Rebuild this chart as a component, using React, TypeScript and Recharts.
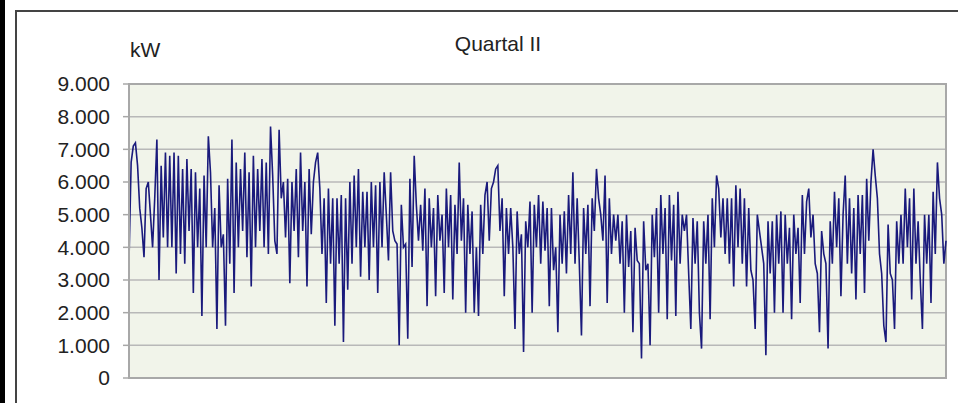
import { LineChart, Line, XAxis, YAxis, CartesianGrid, ReferenceArea } from "recharts";

// kW readings left to right, one block per stretch of the quarter
const aprilA = [
  3600, 6600, 7100, 7200, 6500, 5200, 4600, 3700, 5800, 6000, 5000, 4000, 5500, 7300, 3000, 6500,
  4300, 6900, 4000, 6800, 4000, 6900, 3200, 6800, 3800, 6400, 3500, 6700, 4500, 6400, 2600, 6300,
  4000, 5800, 1900, 6200, 4000, 7400, 6300, 4000, 5200, 1500,
];
const aprilB = [
  5900, 4000, 4400, 1600, 6100, 3500, 7300, 2600, 6600, 4000, 6400, 4500, 6900, 3700, 6300, 2800,
  6800, 4000, 6400, 4500, 6700, 4000, 6600, 3800, 7700, 6200, 4200, 3800, 7600, 5500, 6000, 4300,
  6100, 2900, 6000, 4500,
];
const aprilC = [
  6400, 3700, 6900, 4500, 6000, 2800, 6400, 4400, 6000, 6600, 6900, 5800, 3800, 5500, 2300, 5800,
  3500, 5500, 1600, 5500, 3500, 5600, 1100, 5500, 2700, 6000, 3500, 6200, 4000, 6400, 3100, 5700,
  4000, 5700, 3000, 6000, 4000, 5900, 2600, 6000, 4000,
];
const mayA = [
  6300, 5000, 3600, 6300, 4500, 4200, 4100, 1000, 5300, 4000, 4100, 1200, 6100, 3400, 6800, 5300,
  4200, 5300, 3900, 5800, 2200, 5500, 4000, 5200, 2500, 5600, 4200, 5000, 2600, 5800, 4000, 5600,
  2400, 5300, 3800, 6600, 4200, 5500, 2000, 5300, 3800, 5100, 2000,
];
const mayB = [
  4000, 1900, 5300, 3800, 5600, 6000, 4200, 5800, 6000, 6400, 6500, 4500, 5500, 2500, 5200, 3800,
  5200, 4000, 1500, 5100, 3800, 4400, 800, 4800, 4000, 5400, 2000, 5300, 4000, 5600, 3500, 5400,
  3900, 5200, 2200, 5200, 3300, 4000, 1400, 5000,
];
const mayC = [
  3500, 5100, 3200, 5600, 3800, 6300, 3500, 5500, 3500, 1300, 5200, 3800, 5300, 2200, 5500, 4500,
  6400, 5500, 5000, 4200, 6200, 2300, 5500, 3800, 5000, 4200, 5000, 3500, 4800, 2000, 5000, 3400,
  4500, 1400, 4600, 3600,
];
const juneA = [
  3500, 600, 4800, 3300, 3500, 1000, 5000, 3700, 5200, 2000, 5600, 3800, 5200, 1800, 5600, 3600,
  5300, 1900, 5700, 3500, 5000, 4500, 5000, 3200, 1500, 4900, 3500, 4800, 2000, 900, 4800, 3500,
  5000, 1800, 5500, 4000, 6200, 5800,
];
const juneB = [
  4300, 5500, 3800, 5500, 3500, 5500, 2800, 5900, 4000, 5800, 3500, 5500, 2800, 5200, 3300, 3000,
  1500, 5000, 4500, 4000, 3500, 700, 4800, 3200, 4800, 2000, 5000, 3500, 5100, 2000, 5000, 3500,
  4600, 1800, 5000, 3800, 4600, 2300, 5600, 3800,
];
const juneC = [
  5400, 5800, 4300, 5000, 3500, 3200, 1400, 4500, 3800, 3500, 900, 4800, 3500, 5700, 4000, 5500,
  2500, 5000, 6200, 3500, 5500, 3200, 5200, 2400, 5600, 3800, 5600, 2600, 6100, 4200, 6000, 7000,
  6200, 5500, 3800, 3200, 1600, 1100, 4700, 3200, 3000,
];
const juneD = [
  1500, 4800, 3500, 5000, 3500, 5800, 4000, 5500, 2400, 5800, 3500, 4800, 3000, 1500, 5000, 3500,
  5000, 2300, 5700, 3800, 6600, 5500, 5000, 3500, 4200,
];

const yTicks = [0, 1000, 2000, 3000, 4000, 5000, 6000, 7000, 8000, 9000];
const yTickLabels = ["0", "1.000", "2.000", "3.000", "4.000", "5.000", "6.000", "7.000", "8.000", "9.000"];

const readings = [
  ...aprilA, ...aprilB, ...aprilC, ...mayA, ...mayB, ...mayC, ...juneA, ...juneB, ...juneC, ...juneD,
];
const data = readings.map((kw, i) => ({ i, kw }));
const last = data.length - 1;

const font = "Arial, 'Liberation Sans', sans-serif";

export default function App() {
  return (
    <div
      style={{
        position: "fixed",
        left: 0,
        top: 0,
        width: 958,
        height: 403,
        overflow: "hidden",
        background: "#fff",
        fontFamily: font,
      }}
    >
      <div style={{ position: "absolute", left: 0, top: 0, width: 5, height: 403, background: "#000" }} />
      <div
        style={{
          position: "absolute",
          left: 15,
          top: 10,
          width: 980,
          height: 440,
          border: "2px solid #444",
        }}
      />
      <div style={{ position: "absolute", left: 130, top: 38, fontSize: 21, color: "#222" }}>kW</div>
      <div
        style={{
          position: "absolute",
          left: 398,
          width: 200,
          top: 32,
          textAlign: "center",
          fontSize: 21,
          color: "#222",
        }}
      >
        Quartal II
      </div>
      <div style={{ position: "absolute", left: 0, top: 0 }}>
        <LineChart width={958} height={403} data={data} margin={{ top: 84, right: 12, bottom: 25, left: 0 }}>
          <CartesianGrid vertical={false} fill="#F1F4EA" stroke="#B8B8B8" strokeWidth={1.5} />
          <XAxis type="number" dataKey="i" domain={[0, last]} hide />
          <YAxis
            width={129}
            domain={[0, 9000]}
            ticks={yTicks}
            interval={0}
            tickFormatter={(v: number) => yTickLabels[yTicks.indexOf(v)]}
            axisLine={{ stroke: "#A8A8A8", strokeWidth: 2 }}
            tickLine={{ stroke: "#A8A8A8", strokeWidth: 1.5 }}
            tickSize={6}
            tickMargin={13}
            tick={{ fill: "#222", fontSize: 21, fontFamily: font }}
          />
          <ReferenceArea
            x1={0}
            x2={last}
            y1={0}
            y2={9000}
            fill="none"
            stroke="#A8A8A8"
            strokeWidth={2}
            ifOverflow="visible"
          />
          <Line
            type="linear"
            dataKey="kw"
            stroke="#1A1A7C"
            strokeWidth={1.6}
            dot={false}
            activeDot={false}
            isAnimationActive={false}
          />
        </LineChart>
      </div>
    </div>
  );
}
